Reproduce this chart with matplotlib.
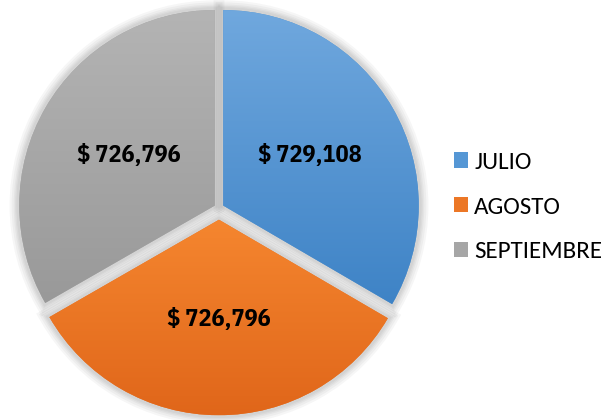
import matplotlib
matplotlib.use("Agg")
import matplotlib.pyplot as plt
import matplotlib.patheffects as pe
import numpy as np
from matplotlib.colors import LinearSegmentedColormap

categories = ["JULIO", "AGOSTO", "SEPTIEMBRE"]
values = [729108, 726796, 726796]
labels = ["$ 729,108", "$ 726,796", "$ 726,796"]
explode = [0.025, 0.06, 0.025]

top_colors = ["#70A8DE", "#F5862F", "#B4B4B4"]
bottom_colors = ["#3E83C6", "#E0661A", "#999999"]
mid_colors = ["#5597D5", "#EC7726", "#A6A6A6"]

W, H = 610, 420
fig = plt.figure(figsize=(W / 100, H / 100), dpi=100)
cx, cy, R = 219, 208, 195.5
half = 209
ax = fig.add_axes([(cx - half) / W, (H - cy - half) / H, 2 * half / W, 2 * half / H])
ax.set_aspect("equal")
ax.axis("off")

shadow = [pe.Stroke(linewidth=w, foreground="black", alpha=0.035) for w in (14, 11, 8, 6, 4)] + [pe.Normal()]

wedges, texts = ax.pie(values, startangle=90, counterclock=False,
                       colors=mid_colors, explode=explode,
                       labels=labels, labeldistance=0.51,
                       wedgeprops=dict(linewidth=0),
                       textprops=dict(fontsize=17.5, fontweight="bold",
                                      family=["IBM Plex Sans Condensed", "DejaVu Sans"],
                                      ha="center", va="center", color="black"))

for w, tc, bc in zip(wedges, top_colors, bottom_colors):
    w.set_path_effects(shadow)
    cmap = LinearSegmentedColormap.from_list("g", [bc, tc])
    grad = np.linspace(0, 1, 256).reshape(-1, 1)
    bb = w.get_path().get_extents(w.get_patch_transform())
    im = ax.imshow(grad, cmap=cmap, origin="lower",
                   extent=[bb.x0, bb.x1, bb.y0, bb.y1],
                   aspect="auto", zorder=w.get_zorder() + 0.5)
    im.set_clip_path(w)

lim = half / R
ax.set_xlim(-lim, lim)
ax.set_ylim(-lim, lim)

for t in texts:
    t.set_zorder(5)

leg = ax.legend(wedges, categories, loc="center left",
                frameon=False, handlelength=0.56, handleheight=0.56,
                handletextpad=0.25, labelspacing=0.95, borderpad=0, borderaxespad=0,
                prop=dict(family=["Carlito", "DejaVu Sans"], size=18))
leg.set_bbox_to_anchor((454 / W, (H - 207) / H), transform=fig.transFigure)
for h in leg.legend_handles:
    h.set_path_effects([])

fig.savefig("out.png", dpi=100)
